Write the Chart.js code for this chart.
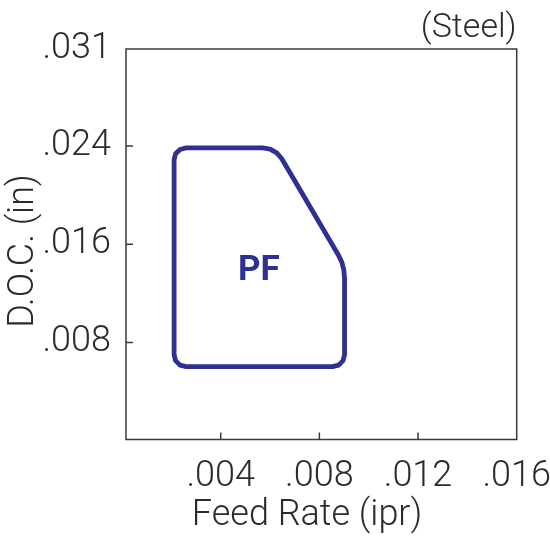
<!DOCTYPE html>
<html>
<head>
<meta charset="utf-8">
<script src="https://cdn.jsdelivr.net/npm/chart.js@4.4.1/dist/chart.umd.min.js"></script>
<style>
  html, body { margin: 0; padding: 0; background: #fff; }
  #wrap { width: 550px; height: 544px; }
</style>
</head>
<body>
<div id="wrap"><canvas id="chart"></canvas></div>
<script>
// axis ranges and ticks
const xMin = 0.00016;
const xMax = 0.016;
const yMin = 0.0001;
const yMax = 0.0319;
const xTickValues = [0.004, 0.008, 0.012, 0.016];
const xTickLabels = ['.004', '.008', '.012', '.016'];
const yTickValues = [0.008, 0.016, 0.024, 0.0319];
const yTickLabels = ['.008', '.016', '.024', '.031'];

// PF region outline (feed rate, depth of cut), clockwise from upper left edge
const pfFeed = [0.00211, 0.00217, 0.00235, 0.00260, 0.00570, 0.00600, 0.00627,
                0.00647, 0.00877, 0.00891, 0.00899, 0.00902, 0.00902, 0.00896,
                0.00878, 0.00853, 0.00260, 0.00235, 0.00217, 0.00211, 0.00211];
const pfDoc  = [0.02288, 0.02337, 0.02372, 0.02385, 0.02385, 0.02375, 0.02344,
                0.02298, 0.01513, 0.01454, 0.01391, 0.01326, 0.00701, 0.00652,
                0.00616, 0.00603, 0.00603, 0.00616, 0.00652, 0.00701, 0.02288];
const regionLabel = 'PF';
const regionLabelAt = { x: 0.00555, y: 0.0138 };

const FONT = 'Roboto, "Liberation Sans", Arial, sans-serif';
const INK = '#2b2b2b';
const BLUE = '#2e3192';

const frame = {
    id: 'frame',
    afterDraw(chart) {
        const { ctx, chartArea: a, scales } = chart;
        ctx.save();
        // plot box
        ctx.strokeStyle = '#3a3a3a';
        ctx.lineWidth = 1.5;
        ctx.strokeRect(a.left, a.top, a.right - a.left, a.bottom - a.top);
        // inward tick marks
        ctx.beginPath();
        scales.x.ticks.forEach(t => {
            const px = scales.x.getPixelForValue(t.value);
            if (px < a.right - 4) { ctx.moveTo(px, a.bottom); ctx.lineTo(px, a.bottom - 7); }
        });
        scales.y.ticks.forEach(t => {
            const py = scales.y.getPixelForValue(t.value);
            if (py > a.top + 4) { ctx.moveTo(a.left, py); ctx.lineTo(a.left + 7, py); }
        });
        ctx.stroke();

        // region label
        ctx.fillStyle = BLUE;
        ctx.font = 'bold 35px ' + FONT;
        ctx.textAlign = 'center';
        ctx.textBaseline = 'middle';
        ctx.fillText(regionLabel, scales.x.getPixelForValue(regionLabelAt.x), scales.y.getPixelForValue(regionLabelAt.y));

        // axis titles and material note
        ctx.fillStyle = INK;
        ctx.textBaseline = 'alphabetic';
        ctx.font = '300 34px ' + FONT;
        ctx.textAlign = 'right';
        ctx.fillText('(Steel)', a.right, 37);
        ctx.font = '300 36px ' + FONT;
        ctx.textAlign = 'center';
        ctx.fillText('Feed Rate (ipr)', a.left + 181, 525);
        ctx.translate(33, a.top + 202);
        ctx.rotate(-Math.PI / 2);
        ctx.fillText('D.O.C. (in)', 0, 0);
        ctx.restore();
    }
};

new Chart(document.getElementById('chart'), {
    type: 'scatter',
    data: {
        datasets: [{
            label: regionLabel,
            data: pfFeed.map((x, i) => ({ x: x, y: pfDoc[i] })),
            showLine: true,
            borderColor: BLUE,
            borderWidth: 4.8,
            borderCapStyle: 'round',
            borderJoinStyle: 'round',
            tension: 0,
            pointRadius: 0,
            pointHoverRadius: 0,
            fill: false
        }]
    },
    options: {
        responsive: true,
        maintainAspectRatio: false,
        animation: false,
        layout: { padding: { top: 49, right: 33.3, left: 0, bottom: 0 } },
        plugins: {
            legend: { display: false },
            tooltip: { enabled: false }
        },
        scales: {
            x: {
                type: 'linear',
                position: 'bottom',
                min: xMin,
                max: xMax,
                afterBuildTicks: s => { s.ticks = xTickValues.map(v => ({ value: v })); },
                afterFit: s => {
                    s.height = 104.5;
                    s.paddingLeft = 0; s.paddingRight = 0;
                },
                grid: { display: false, drawTicks: false },
                border: { display: false },
                ticks: {
                    padding: 16,
                    maxRotation: 0,
                    autoSkip: false,
                    color: INK,
                    font: { family: FONT, size: 36, weight: 300 },
                    callback: v => xTickLabels[xTickValues.indexOf(v)]
                }
            },
            y: {
                type: 'linear',
                position: 'left',
                min: yMin,
                max: yMax,
                afterBuildTicks: s => { s.ticks = yTickValues.map(v => ({ value: v })); },
                afterFit: s => {
                    s.width = 126;
                    s.paddingTop = 0; s.paddingBottom = 0;
                },
                grid: { display: false, drawTicks: false },
                border: { display: false },
                ticks: {
                    padding: 15,
                    autoSkip: false,
                    color: INK,
                    font: { family: FONT, size: 36, weight: 300 },
                    callback: v => yTickLabels[yTickValues.indexOf(v)]
                }
            }
        }
    },
    plugins: [frame]
});
</script>
</body>
</html>
